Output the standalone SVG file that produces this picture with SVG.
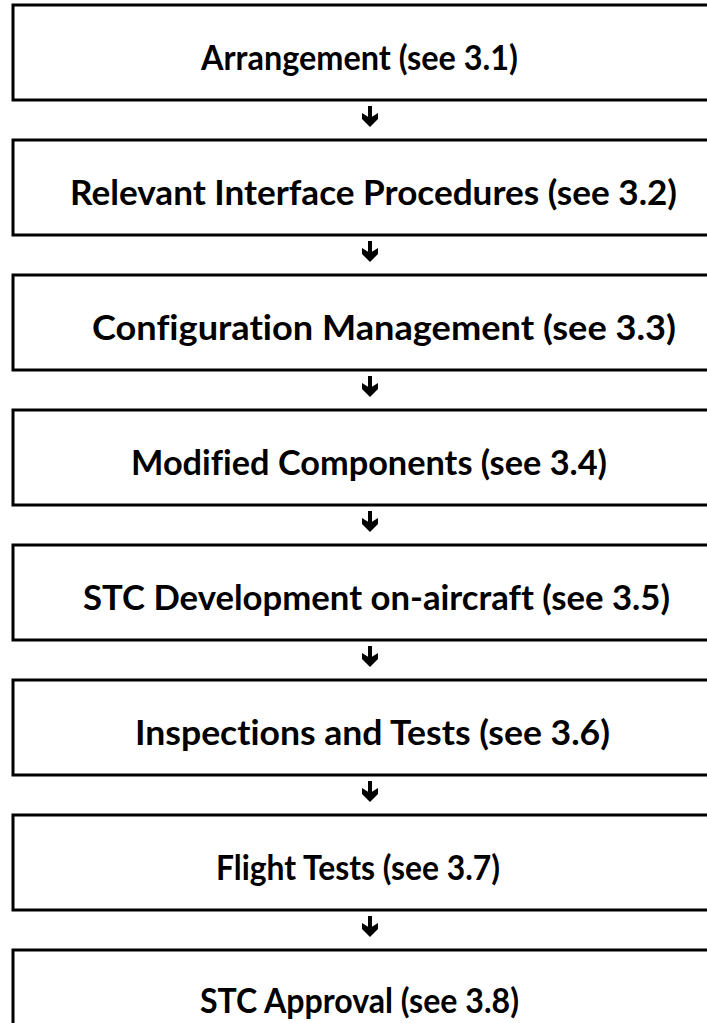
<svg xmlns="http://www.w3.org/2000/svg" width="707" height="1023" viewBox="0 0 707 1023">
<style>
.box{fill:#fff;stroke:#000;stroke-width:3}
.lbl{font-family:Lato,"Open Sans","Liberation Sans",sans-serif;font-weight:bold;font-size:34px;fill:#000;font-variant-ligatures:none}
.shaft{stroke:#000;stroke-width:4;fill:none}
.head{fill:#000;stroke:none}
</style>
<defs>
<g id="arrow">
<line class="shaft" x1="370" y1="0" x2="370" y2="14"/>
<path class="head" d="M362,7 L370,12 L378,7 L378,13 L370,21 L362,13 Z"/>
</g>
</defs>
<rect width="707" height="1023" fill="#fff"/>
<g id="connectors">
<use href="#arrow" y="106"/>
<use href="#arrow" y="241"/>
<use href="#arrow" y="376"/>
<use href="#arrow" y="511"/>
<use href="#arrow" y="646"/>
<use href="#arrow" y="781"/>
<use href="#arrow" y="916"/>
</g>
<g id="n1"><rect class="box" x="13" y="5" width="720" height="95"/><text class="lbl" x="201" y="70" textLength="317" lengthAdjust="spacingAndGlyphs">Arrangement (see 3.1)</text></g>
<g id="n2"><rect class="box" x="13" y="140" width="720" height="95"/><text class="lbl" x="70" y="205" textLength="607" lengthAdjust="spacingAndGlyphs">Relevant Interface Procedures (see 3.2)</text></g>
<g id="n3"><rect class="box" x="13" y="275" width="720" height="95"/><text class="lbl" x="92" y="340" textLength="584" lengthAdjust="spacingAndGlyphs">Configuration Management (see 3.3)</text></g>
<g id="n4"><rect class="box" x="13" y="410" width="720" height="95"/><text class="lbl" x="131" y="475" textLength="476" lengthAdjust="spacingAndGlyphs">Modified Components (see 3.4)</text></g>
<g id="n5"><rect class="box" x="13" y="545" width="720" height="95"/><text class="lbl" x="83" y="610" textLength="587" lengthAdjust="spacingAndGlyphs">STC Development on-aircraft (see 3.5)</text></g>
<g id="n6"><rect class="box" x="13" y="680" width="720" height="95"/><text class="lbl" x="135" y="745" textLength="475" lengthAdjust="spacingAndGlyphs">Inspections and Tests (see 3.6)</text></g>
<g id="n7"><rect class="box" x="13" y="815" width="720" height="95"/><text class="lbl" x="216" y="880" textLength="284" lengthAdjust="spacingAndGlyphs">Flight Tests (see 3.7)</text></g>
<g id="n8"><rect class="box" x="13" y="950" width="720" height="95"/><text class="lbl" x="200" y="1013" textLength="319" lengthAdjust="spacingAndGlyphs">STC Approval (see 3.8)</text></g>
</svg>
